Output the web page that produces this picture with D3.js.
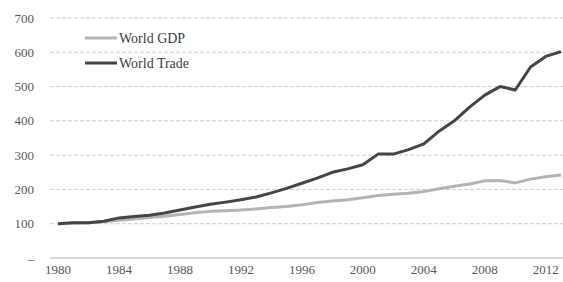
<!DOCTYPE html>
<html>
<head>
<meta charset="utf-8">
<script src="https://cdn.jsdelivr.net/npm/d3@7"></script>
<style>
  body { margin: 0; background: #fff; }
  svg { display: block; font-family: "Liberation Serif", "Times New Roman", serif; }
</style>
</head>
<body>
<div id="chart"></div>
<script>
// Data (index, 1980 = 100)
const years = d3.range(1980, 2014)
const worldGDP = [100, 102, 103, 106, 110, 114, 118, 122, 127, 132, 136, 138, 140, 143, 147, 150, 155, 162, 166, 170,
  176, 182, 186, 189, 194, 202, 209, 216, 225, 226, 219, 230, 237, 242]
const worldTrade = [100, 103, 103, 107, 117, 121, 125, 131, 140, 149, 157, 163, 170, 178, 190, 203, 218, 233, 250, 260,
  272, 303, 303, 316, 333, 370, 400, 440, 475, 500, 490, 557, 588, 602]
const yTicks = [0, 100, 200, 300, 400, 500, 600, 700]
const xTicks = [1980, 1984, 1988, 1992, 1996, 2000, 2004, 2008, 2012]

const width = 563
const height = 282

const series = [
  { label: 'World GDP', values: worldGDP, color: '#b4b4b4' },
  { label: 'World Trade', values: worldTrade, color: '#454545' }
]

const svg = d3.select('#chart').append('svg')
  .attr('width', width)
  .attr('height', height)

// x is a category axis, one slot per year
const x = d3.scalePoint()
  .domain(years)
  .range([58, 561])

const y = d3.scaleLinear()
  .domain([0, 700])
  .range([258, 18])

// gridlines
svg.append('g')
  .selectAll('line')
  .data(yTicks.filter(d => d > 0))
  .join('line')
  .attr('x1', 50)
  .attr('x2', width)
  .attr('y1', d => y(d))
  .attr('y2', d => y(d))
  .attr('stroke', '#cfcfcf')
  .attr('stroke-width', 1)
  .attr('stroke-dasharray', '4,2')

// zero axis line
svg.append('line')
  .attr('x1', 50)
  .attr('x2', width)
  .attr('y1', y(0))
  .attr('y2', y(0))
  .attr('stroke', '#d9d9d9')
  .attr('stroke-width', 2)

// y labels
svg.append('g')
  .selectAll('text')
  .data(yTicks)
  .join('text')
  .attr('x', 34)
  .attr('y', d => y(d))
  .attr('dy', '0.35em')
  .attr('text-anchor', 'end')
  .attr('font-size', 13)
  .attr('fill', '#595959')
  .text(d => d === 0 ? '–' : d)

// x labels
svg.append('g')
  .selectAll('text')
  .data(xTicks)
  .join('text')
  .attr('x', d => x(d))
  .attr('y', 274)
  .attr('text-anchor', 'middle')
  .attr('font-size', 13)
  .attr('fill', '#595959')
  .text(d => d)

// lines
const line = d3.line()
  .x((d, i) => x(years[i]))
  .y(d => y(d))

svg.append('g')
  .selectAll('path')
  .data(series)
  .join('path')
  .attr('d', d => line(d.values))
  .attr('fill', 'none')
  .attr('stroke', d => d.color)
  .attr('stroke-width', 3)
  .attr('stroke-linejoin', 'round')

// legend
const legend = svg.append('g')
  .selectAll('g')
  .data(series)
  .join('g')
  .attr('transform', (d, i) => 'translate(85,' + (38 + i * 25) + ')')

legend.append('line')
  .attr('x1', 0)
  .attr('x2', 32)
  .attr('stroke', d => d.color)
  .attr('stroke-width', 3)

legend.append('text')
  .attr('x', 34)
  .attr('dy', '0.35em')
  .attr('font-size', 14)
  .attr('fill', '#404040')
  .text(d => d.label)
</script>
</body>
</html>
